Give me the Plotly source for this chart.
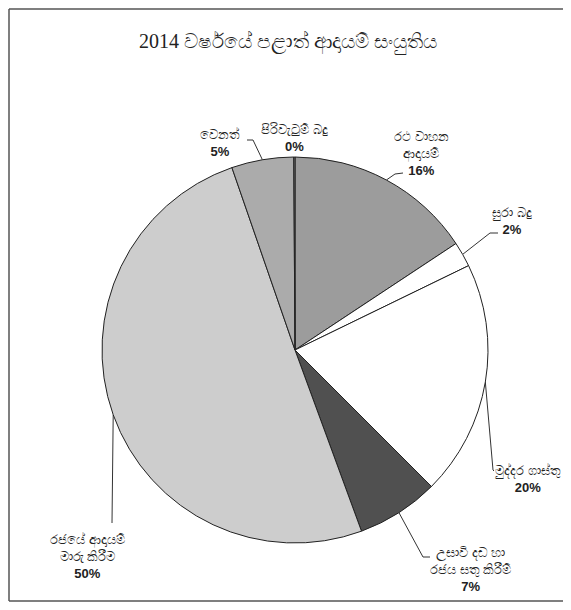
import math
import plotly.graph_objects as go

# Provincial revenue composition 2014 (share of total, %)
labels = [
    "රථ වාහන<br>ආදායම්",
    "සුරා බදු",
    "මුද්දර ගාස්තු",
    "උසාවි දඩ හා<br>රජය සතු කිරීම්",
    "රජයේ ආදායම්<br>මාරු කිරීම",
    "වෙනත්",
    "පිරිවැටුම් බදු",
]
values = [15.7, 2.1, 19.7, 6.9, 50.3, 5.2, 0.1]
colors = ["#9c9c9c", "#ffffff", "#ffffff", "#505050", "#cdcdcd", "#ababab", "#8a8a8a"]

title = "2014 වර්ෂයේ පළාත් ආදායම් සංයුතිය"

# window size and the page's default body margin
W, H, OFF = 571, 610, 8
FW, FH = W - OFF, H - 2 * OFF
YMAX = OFF + FH  # lowest visible screen row of the figure
CX, CY, R = 295, 350, 193  # pie centre / radius in screen pixels

# label text centres and leader-line elbows (screen pixels)
label_pos = [(421, 153), (512, 221), (528, 479), (470, 569), (87, 556), (220, 143), (294, 138)]
elbows = [
    [(395, 174), (403, 173)],
    [(490, 233), (498, 233)],
    [(493, 470), (494, 471)],
    [(423, 557), (430, 557)],
    [(112, 523)],
    [(253, 140), (247, 140)],
    None,
]

fig = go.Figure()

fig.add_trace(go.Pie(
    labels=labels, values=values, sort=False, direction="clockwise", rotation=0,
    marker=dict(colors=colors, line=dict(color="#222222", width=1)),
    textinfo="none", hoverinfo="label+percent", showlegend=False,
    domain=dict(x=[(CX - R - OFF) / FW, (CX + R - OFF) / FW],
                y=[(YMAX - CY - R) / FH, (YMAX - CY + R) / FH]),
))

total = sum(values)
cum = 0
for lab, v, (tx, ty), elb in zip(labels, values, label_pos, elbows):
    mid = (cum + v / 2) / total * 2 * math.pi
    cum += v
    pct = round(v / total * 100)
    if elb:
        tip = (CX + R * math.sin(mid), CY - R * math.cos(mid))
        pts = [tip] + elb
        fig.add_trace(go.Scatter(
            x=[p[0] for p in pts], y=[p[1] for p in pts], mode="lines",
            line=dict(color="#333333", width=1), hoverinfo="skip", showlegend=False,
        ))
    fig.add_annotation(
        x=tx, y=ty, xref="x", yref="y", showarrow=False,
        text=f"{lab}<br><b>{pct}%</b>", align="center",
        font=dict(family="Liberation Sans, Arial, sans-serif", size=13, color="#222222"),
    )

fig.add_annotation(
    x=288, y=42, xref="x", yref="y", showarrow=False, text=title,
    font=dict(family="Liberation Serif, DejaVu Serif, serif", size=20, color="#222222"),
)

# scanned page frame: left, top and bottom edges (right edge runs off the page)
yb = 1 / FH
frame = [(1 / FW, yb, 1 / FW, 1 - 1 / FH),
         (1 / FW, 1 - 1 / FH, 1, 1 - 1 / FH),
         (1 / FW, yb, 1, yb)]
for x0, y0, x1, y1 in frame:
    fig.add_shape(type="line", xref="paper", yref="paper", x0=x0, y0=y0, x1=x1, y1=y1,
                  line=dict(color="#555555", width=1.5))

fig.update_xaxes(range=[OFF, W], visible=False, fixedrange=True)
fig.update_yaxes(range=[YMAX, OFF], visible=False, fixedrange=True)
fig.update_layout(
    width=FW, height=FH, margin=dict(l=0, r=0, t=0, b=0),
    paper_bgcolor="white", plot_bgcolor="rgba(0,0,0,0)",
)

fig.write_html("out.html")
